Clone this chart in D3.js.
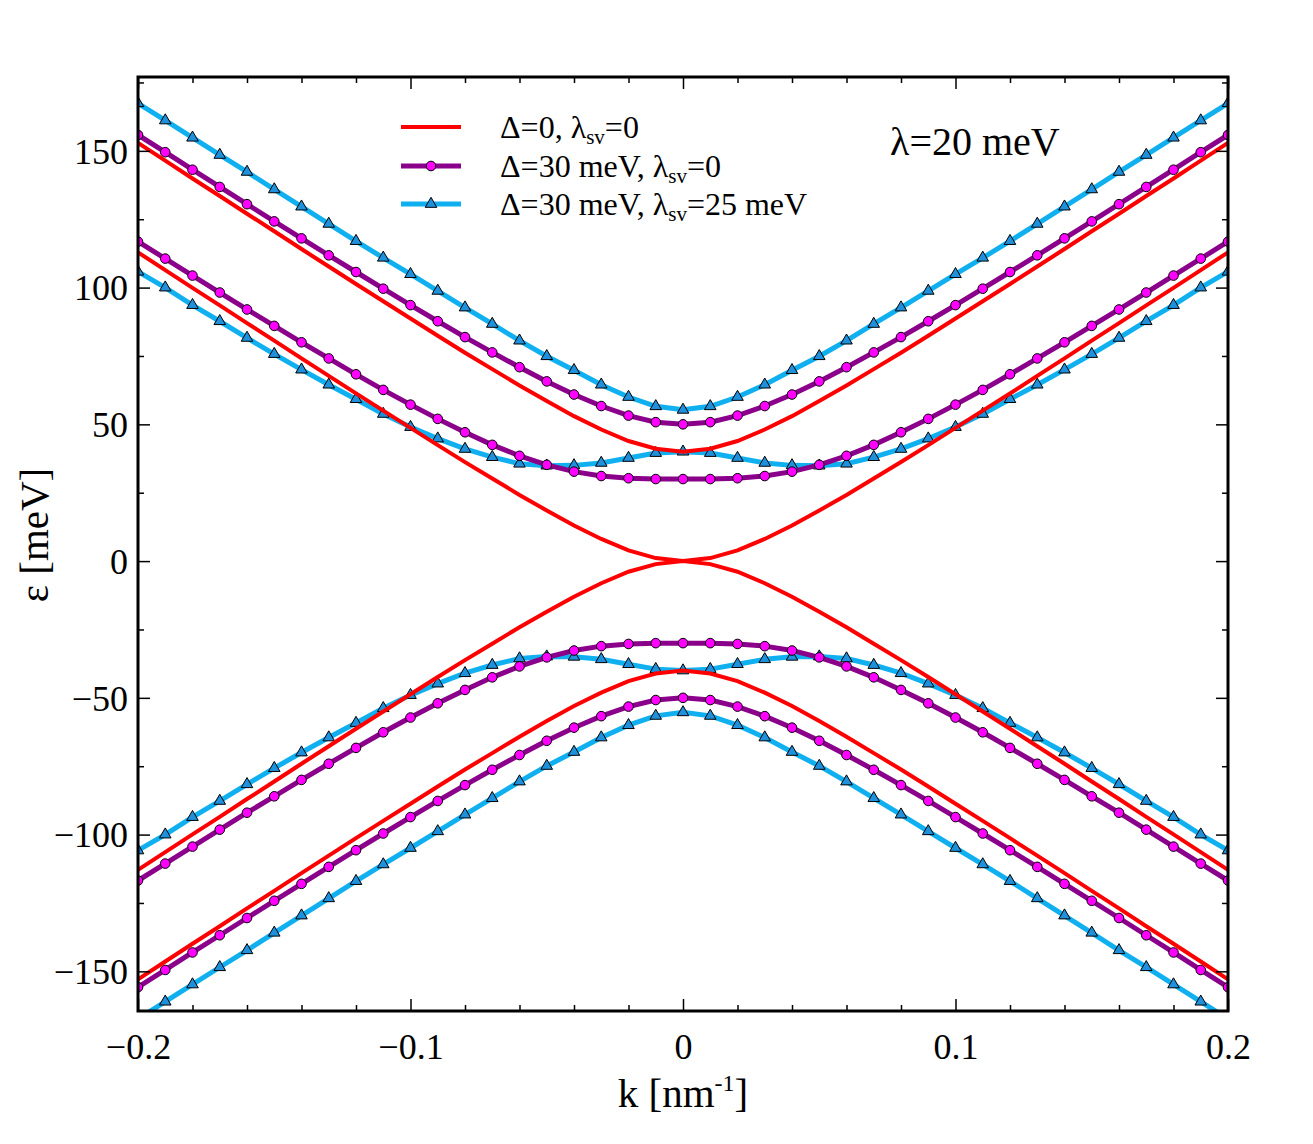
<!DOCTYPE html>
<html>
<head>
<meta charset="utf-8">
<script src="https://d3js.org/d3.v7.min.js"></script>
<style>
  body { margin: 0; background: #fff; }
  svg text { font-family: "Liberation Serif", "Times New Roman", serif; fill: #000; }
</style>
</head>
<body>
<div id="chart"></div>
<script>
// wave vector grid (nm^-1)
var kVals = [-0.20,-0.19,-0.18,-0.17,-0.16,-0.15,-0.14,-0.13,-0.12,-0.11,-0.10,-0.09,-0.08,-0.07,-0.06,-0.05,-0.04,-0.03,-0.02,-0.01,
             0.00,0.01,0.02,0.03,0.04,0.05,0.06,0.07,0.08,0.09,0.10,0.11,0.12,0.13,0.14,0.15,0.16,0.17,0.18,0.19,0.20];

// Δ=0, λsv=0 (four bands)
var red1 = [152.9,146.4,139.9,133.5,127.0,120.6,114.1,107.7,101.3,95.0,88.7,82.4,76.2,70.2,64.2,58.5,53.0,48.1,43.9,41.1,
            40.0,41.1,43.9,48.1,53.0,58.5,64.2,70.2,76.2,82.4,88.7,95.0,101.3,107.7,114.1,120.6,127.0,133.5,139.9,146.4,152.9];
var red2 = [112.9,106.4,99.9,93.5,87.0,80.6,74.1,67.7,61.3,55.0,48.7,42.4,36.2,30.2,24.2,18.5,13.0,8.1,3.9,1.1,
            0.0,1.1,3.9,8.1,13.0,18.5,24.2,30.2,36.2,42.4,48.7,55.0,61.3,67.7,74.1,80.6,87.0,93.5,99.9,106.4,112.9];
var red3 = [-112.9,-106.4,-99.9,-93.5,-87.0,-80.6,-74.1,-67.7,-61.3,-55.0,-48.7,-42.4,-36.2,-30.2,-24.2,-18.5,-13.0,-8.1,-3.9,-1.1,
            0.0,-1.1,-3.9,-8.1,-13.0,-18.5,-24.2,-30.2,-36.2,-42.4,-48.7,-55.0,-61.3,-67.7,-74.1,-80.6,-87.0,-93.5,-99.9,-106.4,-112.9];
var red4 = [-152.9,-146.4,-139.9,-133.5,-127.0,-120.6,-114.1,-107.7,-101.3,-95.0,-88.7,-82.4,-76.2,-70.2,-64.2,-58.5,-53.0,-48.1,-43.9,-41.1,
            -40.0,-41.1,-43.9,-48.1,-53.0,-58.5,-64.2,-70.2,-76.2,-82.4,-88.7,-95.0,-101.3,-107.7,-114.1,-120.6,-127.0,-133.5,-139.9,-146.4,-152.9];

// Δ=30 meV, λsv=0
var pur1 = [155.8,149.5,143.1,136.8,130.5,124.2,118.0,111.8,105.7,99.6,93.6,87.7,81.9,76.3,70.9,65.7,60.9,56.7,53.2,50.8,
            50.0,50.8,53.2,56.7,60.9,65.7,70.9,76.3,81.9,87.7,93.6,99.6,105.7,111.8,118.0,124.2,130.5,136.8,143.1,149.5,155.8];
var pur2 = [116.8,110.6,104.4,98.2,92.0,86.0,80.0,74.1,68.3,62.6,57.2,52.0,47.1,42.5,38.5,35.2,32.7,31.1,30.3,30.0,
            30.0,30.0,30.3,31.1,32.7,35.2,38.5,42.5,47.1,52.0,57.2,62.6,68.3,74.1,80.0,86.0,92.0,98.2,104.4,110.6,116.8];
var pur3 = [-116.8,-110.6,-104.4,-98.2,-92.0,-86.0,-80.0,-74.1,-68.3,-62.6,-57.2,-52.0,-47.1,-42.5,-38.5,-35.2,-32.7,-31.1,-30.3,-30.0,
            -30.0,-30.0,-30.3,-31.1,-32.7,-35.2,-38.5,-42.5,-47.1,-52.0,-57.2,-62.6,-68.3,-74.1,-80.0,-86.0,-92.0,-98.2,-104.4,-110.6,-116.8];
var pur4 = [-155.8,-149.5,-143.1,-136.8,-130.5,-124.2,-118.0,-111.8,-105.7,-99.6,-93.6,-87.7,-81.9,-76.3,-70.9,-65.7,-60.9,-56.7,-53.2,-50.8,
            -50.0,-50.8,-53.2,-56.7,-60.9,-65.7,-70.9,-76.3,-81.9,-87.7,-93.6,-99.6,-105.7,-111.8,-118.0,-124.2,-130.5,-136.8,-143.1,-149.5,-155.8];

// Δ=30 meV, λsv=25 meV
var blu1 = [167.4,161.1,154.8,148.5,142.3,135.9,129.6,123.3,117.0,110.9,104.9,98.8,92.7,86.7,80.6,74.9,69.8,64.5,60.0,56.6,
            55.3,56.6,60.0,64.5,69.8,74.9,80.6,86.7,92.7,98.8,104.9,110.9,117.0,123.3,129.6,135.9,142.3,148.5,154.8,161.1,167.4];
var blu2 = [105.8,100.0,93.6,87.7,81.6,75.7,70.0,64.5,59.2,53.8,49.0,44.8,41.0,38.0,35.6,34.9,35.0,35.9,37.7,39.5,
            40.0,39.5,37.7,35.9,35.0,34.9,35.6,38.0,41.0,44.8,49.0,53.8,59.2,64.5,70.0,75.7,81.6,87.7,93.6,100.0,105.8];
var blu3 = [-105.8,-100.0,-93.6,-87.7,-81.6,-75.7,-70.0,-64.5,-59.2,-53.8,-49.0,-44.8,-41.0,-38.0,-35.6,-34.9,-35.0,-35.9,-37.7,-39.5,
            -40.0,-39.5,-37.7,-35.9,-35.0,-34.9,-35.6,-38.0,-41.0,-44.8,-49.0,-53.8,-59.2,-64.5,-70.0,-75.7,-81.6,-87.7,-93.6,-100.0,-105.8];
var blu4 = [-167.4,-161.1,-154.8,-148.5,-142.3,-135.9,-129.6,-123.3,-117.0,-110.9,-104.9,-98.8,-92.7,-86.7,-80.6,-74.9,-69.8,-64.5,-60.0,-56.6,
            -55.3,-56.6,-60.0,-64.5,-69.8,-74.9,-80.6,-86.7,-92.7,-98.8,-104.9,-110.9,-117.0,-123.3,-129.6,-135.9,-142.3,-148.5,-154.8,-161.1,-167.4];

var xTicks = [-0.2, -0.1, 0, 0.1, 0.2];
var xMinor = [-0.18,-0.16,-0.14,-0.12,-0.08,-0.06,-0.04,-0.02,0.02,0.04,0.06,0.08,0.12,0.14,0.16,0.18];
var yTicks = [-150, -100, -50, 0, 50, 100, 150];
var yMinor = [-125, -75, -25, 25, 75, 125, 175];

var legendLabels = ["Δ=0, λ|sv|=0", "Δ=30 meV, λ|sv|=0", "Δ=30 meV, λ|sv|=25 meV"];

var W = 1313, H = 1144;
var L = 138, R = 1228, T = 77, B = 1011;

var svg = d3.select("#chart").append("svg").attr("width", W).attr("height", H);

var x = d3.scaleLinear().domain([-0.2, 0.2]).range([L, R]);
var y = d3.scaleLinear().domain([-164.5, 177]).range([B, T]);

svg.append("clipPath").attr("id", "clip")
   .append("rect").attr("x", L).attr("y", T).attr("width", R - L).attr("height", B - T);

var plot = svg.append("g").attr("clip-path", "url(#clip)");

var line = d3.line().x(function(d) { return x(d[0]); }).y(function(d) { return y(d[1]); });

function pts(arr) {
    return kVals.map(function(k, i) { return [k, arr[i]]; });
}

var triangle = d3.symbol().type(d3.symbolTriangle).size(58);

// blue bands with triangles
[blu1, blu2, blu3, blu4].forEach(function(b) {
    plot.append("path").attr("d", line(pts(b)))
        .attr("fill", "none").attr("stroke", "#10b0f0").attr("stroke-width", 5);
    plot.selectAll(null).data(pts(b)).enter().append("path")
        .attr("d", triangle)
        .attr("transform", function(d) { return "translate(" + x(d[0]) + "," + y(d[1]) + ")"; })
        .attr("fill", "#1e90dc").attr("stroke", "#000").attr("stroke-width", 1);
});

// purple bands with circles
[pur1, pur2, pur3, pur4].forEach(function(b) {
    plot.append("path").attr("d", line(pts(b)))
        .attr("fill", "none").attr("stroke", "#8b008b").attr("stroke-width", 5);
    plot.selectAll(null).data(pts(b)).enter().append("circle")
        .attr("cx", function(d) { return x(d[0]); })
        .attr("cy", function(d) { return y(d[1]); })
        .attr("r", 4.8)
        .attr("fill", "#ff00ff").attr("stroke", "#000").attr("stroke-width", 1);
});

// red bands
[red1, red2, red3, red4].forEach(function(b) {
    plot.append("path").attr("d", line(pts(b)))
        .attr("fill", "none").attr("stroke", "#ff0000").attr("stroke-width", 4);
});

// axes, ticks pointing in
function addAxis(axis, tr, size, vals, fmt) {
    var g = svg.append("g").attr("transform", tr)
        .call(axis.tickValues(vals).tickSizeInner(size).tickSizeOuter(0).tickFormat(fmt));
    g.select(".domain").remove();
    g.selectAll("line").attr("stroke", "#000").attr("stroke-width", 1.5);
    return g;
}
var none = function() { return ""; };
var gx = addAxis(d3.axisBottom(x), "translate(0," + B + ")", -12, xTicks, d3.format(""));
addAxis(d3.axisBottom(x), "translate(0," + B + ")", -6, xMinor, none);
addAxis(d3.axisTop(x), "translate(0," + T + ")", -12, xTicks, none);
addAxis(d3.axisTop(x), "translate(0," + T + ")", -6, xMinor, none);
var gy = addAxis(d3.axisLeft(y), "translate(" + L + ",0)", -12, yTicks, d3.format(""));
addAxis(d3.axisLeft(y), "translate(" + L + ",0)", -6, yMinor, none);
addAxis(d3.axisRight(y), "translate(" + R + ",0)", -12, yTicks, none);
addAxis(d3.axisRight(y), "translate(" + R + ",0)", -6, yMinor, none);

gx.selectAll("text").attr("y", 22).attr("dy", "0.71em").attr("font-size", 36)
  .style("font-family", "'Liberation Serif', serif");
gy.selectAll("text").attr("x", -10).attr("dy", "0.34em").attr("font-size", 36)
  .style("font-family", "'Liberation Serif', serif");

// frame
svg.append("rect").attr("x", L).attr("y", T).attr("width", R - L).attr("height", B - T)
   .attr("fill", "none").attr("stroke", "#000").attr("stroke-width", 3);

// axis titles
var xt = svg.append("text").attr("x", 683).attr("y", 1107).attr("text-anchor", "middle").attr("font-size", 41);
xt.append("tspan").text("k [nm");
xt.append("tspan").attr("font-size", 24).attr("dy", -16).text("-1");
xt.append("tspan").attr("dy", 16).text("]");

svg.append("text").attr("transform", "translate(48,535) rotate(-90)")
   .attr("text-anchor", "middle").attr("font-size", 41).text("ε [meV]");

// annotation
svg.append("text").attr("x", 890).attr("y", 155).attr("font-size", 40).text("λ=20 meV");

// legend
var legY = [127, 166, 204];
var legCol = ["#ff0000", "#8b008b", "#10b0f0"];
legendLabels.forEach(function(lab, i) {
    var yy = legY[i];
    svg.append("line").attr("x1", 401).attr("x2", 461).attr("y1", yy).attr("y2", yy)
       .attr("stroke", legCol[i]).attr("stroke-width", i == 0 ? 4 : 5);
    if (i == 1) {
        svg.append("circle").attr("cx", 431).attr("cy", yy).attr("r", 4.8)
           .attr("fill", "#ff00ff").attr("stroke", "#000");
    }
    if (i == 2) {
        svg.append("path").attr("d", triangle).attr("transform", "translate(431," + yy + ")")
           .attr("fill", "#1e90dc").attr("stroke", "#000");
    }
    var parts = lab.split("|");
    var t = svg.append("text").attr("x", 500).attr("y", yy + 11).attr("font-size", 32);
    t.append("tspan").text(parts[0]);
    t.append("tspan").attr("font-size", 21).attr("dy", 6).text(parts[1]);
    t.append("tspan").attr("dy", -6).text(parts[2]);
});
</script>
</body>
</html>
